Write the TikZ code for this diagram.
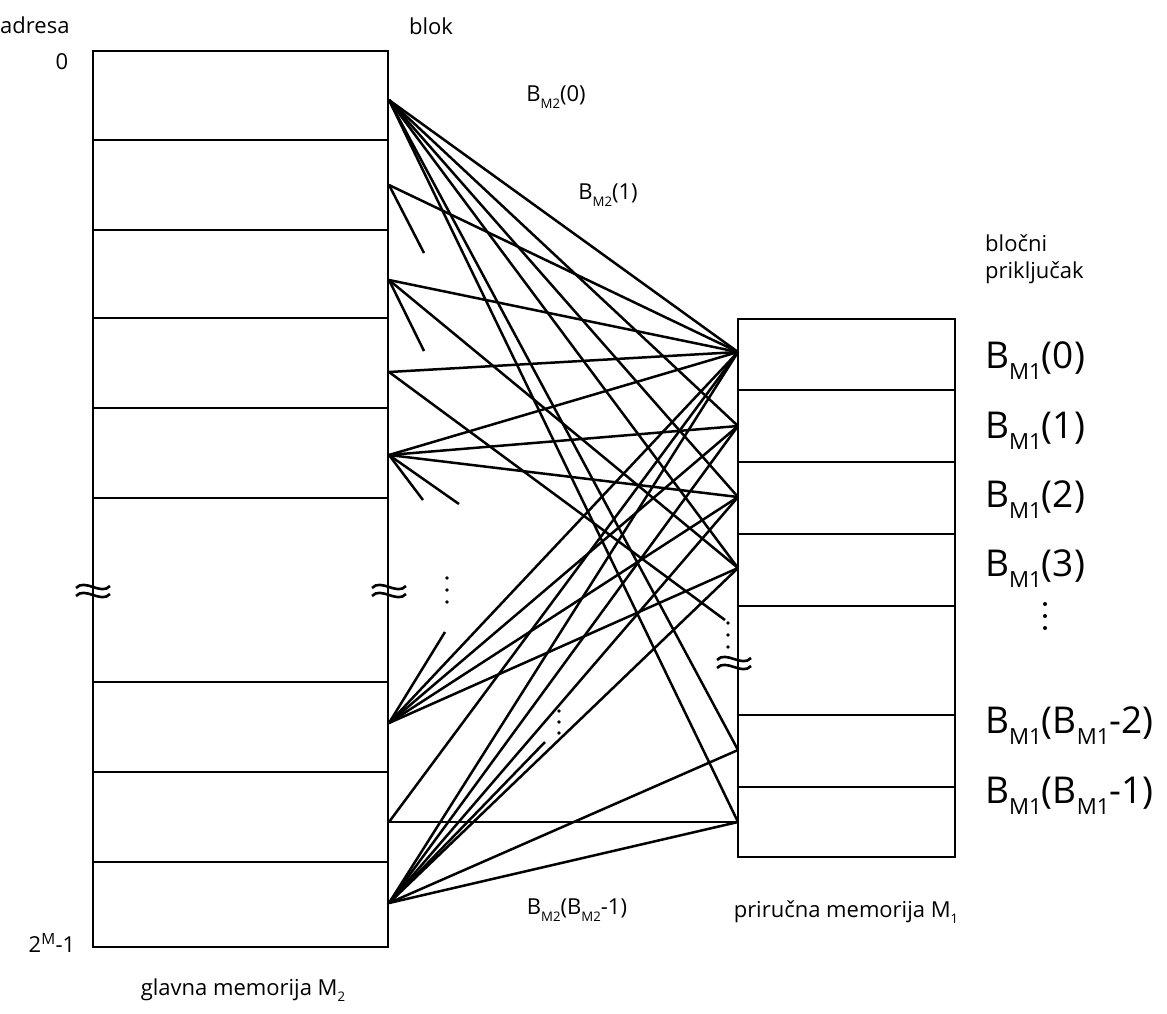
\documentclass[tikz,border=0pt]{standalone}
\usepackage{graphicx}
\usepackage{fontspec}
\setmainfont{Open Sans}
\newcommand{\subtxt}[1]{\raisebox{-0.3em}{\scalebox{0.6}{#1}}}

\begin{document}
\begin{tikzpicture}[
        x=1pt, y=-1pt,
        mem/.style={line width=2.6pt},
        link/.style={line width=2.5pt},
        lbl/.style={font=\fontsize{22}{27}\selectfont, inner sep=0pt},
        biglbl/.style={font=\fontsize{37}{40}\selectfont, inner sep=0pt, anchor=base west},
        dot/.style={fill=black, draw=none},
        wavegap/.pic={
            \draw[line width=2.6pt] (-17,-2) .. controls (-8,-12) and (8,6) .. (17,-4);
            \draw[line width=2.6pt] (-17,6) .. controls (-8,-4) and (8,14) .. (17,4);
        }
    ]
        \useasboundingbox (0,0) rectangle (1167,1013);

        \draw[mem] (93,51) rectangle (388,947);
        \foreach \y in {140,230,318,408,498,682,772,862}
            \draw[mem] (93,\y) -- (388,\y);

        \draw[mem] (738,319) rectangle (955,857);
        \foreach \y in {390,462,534,606,715,787}
            \draw[mem] (738,\y) -- (955,\y);

        \coordinate (m0) at (389,100);
        \coordinate (m1) at (389,185);
        \coordinate (m2) at (389,280);
        \coordinate (m3) at (389,372);
        \coordinate (m4) at (389,455);
        \coordinate (mx) at (389,723);
        \coordinate (my) at (389,822);
        \coordinate (mz) at (389,903);

        \coordinate (c0) at (738,352);
        \coordinate (c1) at (738,426);
        \coordinate (c2) at (738,497);
        \coordinate (c3) at (738,568);
        \coordinate (cy) at (738,750);
        \coordinate (cz) at (738,822);

        \coordinate (s1) at (424,253);
        \coordinate (s2) at (424,351);
        \coordinate (s3) at (725,620);
        \coordinate (s4a) at (423,500);
        \coordinate (s4b) at (459,504);
        \coordinate (sx) at (445,632);
        \coordinate (sz) at (545,742);

        \foreach \c in {c0,c1,c2,c3,cy,cz}
            \draw[link] (m0) -- (\c);
        \draw[link] (m1) -- (c0);
        \draw[link] (m1) -- (s1);
        \draw[link] (m2) -- (c0);
        \draw[link] (m2) -- (c3);
        \draw[link] (m2) -- (s2);
        \draw[link] (m3) -- (c0);
        \draw[link] (m3) -- (s3);
        \foreach \c in {c0,c1,c2,s4a,s4b}
            \draw[link] (m4) -- (\c);
        \foreach \c in {c0,c1,c2,c3,sx}
            \draw[link] (mx) -- (\c);
        \draw[link] (my) -- (c0);
        \draw[link] (my) -- (cz);
        \foreach \c in {c0,c1,c2,c3,cy,cz,sz}
            \draw[link] (mz) -- (\c);

        \pic at (93,590) {wavegap};
        \pic at (389,590) {wavegap};
        \pic at (734,662) {wavegap};

        \foreach \y in {578,590,602}
            \fill[dot] (447,\y) circle (1.9);
        \foreach \y in {711,722,733}
            \fill[dot] (559,\y) circle (1.9);
        \foreach \y in {623,635,647}
            \fill[dot] (728,\y) circle (1.9);
        \foreach \y in {604,616,628}
            \fill[dot] (1045,\y) circle (2);

        \node[lbl, anchor=west] (adr) at (0,25) {adresa};
        \node[lbl] (blk) at (431,26) {blok};
        \node[lbl] (first) at (62,62) {0};
        \node[lbl] (last) at (52,943) {2\textsuperscript{M}-1};
        \node[lbl] (mainname) at (243,990) {glavna memorija M\subtxt{2}};
        \node[lbl] (bm0) at (556,97) {B\subtxt{M2}(0)};
        \node[lbl] (bm1) at (608,195) {B\subtxt{M2}(1)};
        \node[lbl] (bmn) at (577,910) {B\subtxt{M2}(B\subtxt{M2}-1)};
        \node[lbl] (cachename) at (846,912) {priručna memorija M\subtxt{1}};
        \node[lbl, anchor=north west, align=left] (port) at (985,234) {bločni\\priključak};

        \node[biglbl] (bc0) at (985,368) {B\subtxt{M1}(0)};
        \node[biglbl] (bc1) at (985,438) {B\subtxt{M1}(1)};
        \node[biglbl] (bc2) at (985,507) {B\subtxt{M1}(2)};
        \node[biglbl] (bc3) at (985,576) {B\subtxt{M1}(3)};
        \node[biglbl] (bcy) at (985,733) {B\subtxt{M1}(B\subtxt{M1}-2)};
        \node[biglbl] (bcz) at (985,803) {B\subtxt{M1}(B\subtxt{M1}-1)};
\end{tikzpicture}
\end{document}
